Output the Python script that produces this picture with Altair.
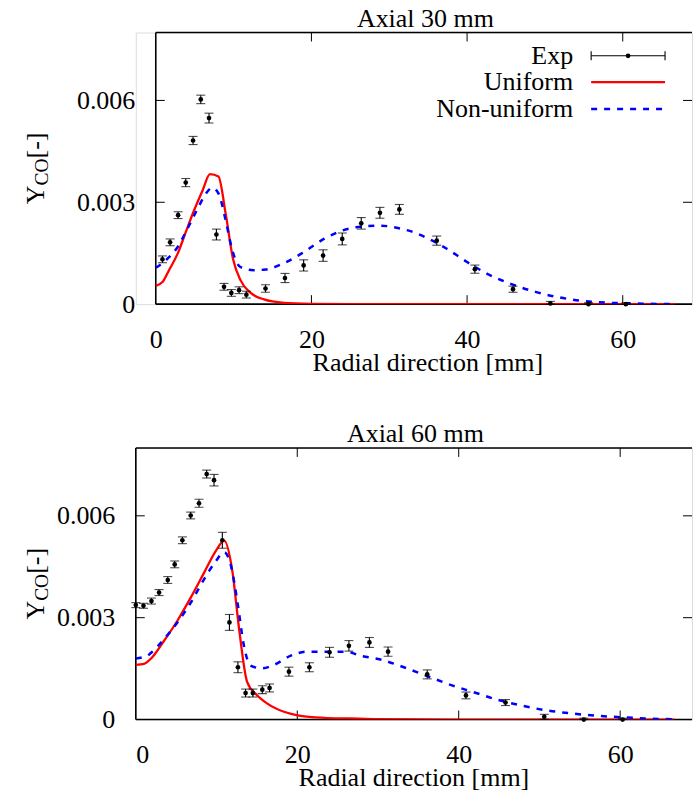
import altair as alt
import pandas as pd

FONT = "Liberation Serif"
FS = 26
SUB = 19.5
RED = "#ff0000"
BLUE = "#0000ff"

# ---------------- data: Axial 30 mm ----------------
exp30_x = [0.86, 1.84, 2.87, 3.85, 4.79, 5.78, 6.84, 7.79, 8.77, 9.71, 10.7, 11.64, 14.1, 16.6,
           19.0, 21.5, 23.96, 26.4, 28.8, 31.3, 36.1, 41.0, 45.9, 50.7, 55.6, 60.4]
exp30_y = [0.00132, 0.00182, 0.00262, 0.00358, 0.00482, 0.00603, 0.00548, 0.00205, 0.00051,
           0.00033, 0.00041, 0.00028, 0.00046, 0.00077, 0.00114, 0.00143, 0.00192, 0.00238,
           0.00269, 0.00279, 0.00187, 0.00103, 0.00044, 0.00002, 0.0, 0.0]
exp30_e = [0.0001, 0.0001, 0.0001, 0.00012, 0.00012, 0.000125, 0.000145, 0.00016, 0.0001,
           0.0001, 0.0001, 0.0001, 0.00011, 0.000135, 0.000165, 0.00017, 0.000175, 0.00017,
           0.00016, 0.000145, 0.000135, 0.00012, 0.00009, 0.00006, 0.00004, 0.00004]

uni30_x = [0, 0.86, 1.7, 2.8, 3.85, 4.9, 6.0, 6.97, 8.05, 8.99, 9.92, 10.9, 12.2, 13.9, 16.5,
           19.9, 25, 30, 40, 50, 60, 66.7]
uni30_y = [0.00054, 0.00065, 0.001, 0.00148, 0.00212, 0.00275, 0.00334, 0.00383, 0.00376,
           0.00265, 0.00134, 0.0007, 0.00033, 0.00014, 0.00004, 0.00001, 0, 0, 0, 0, 0, 0]

non30_x = [0, 1.28, 2.8, 4.07, 5.35, 6.4, 7.28, 8.1, 8.99, 9.84, 10.9, 12.6, 14.1, 16.5, 19.0,
           21.6, 24.0, 26.3, 28.9, 31.5, 33.1, 34.65, 37.4, 40.0, 42.8, 45.8, 48.8, 51.8, 55.0,
           58.2, 61.4, 66.75]
non30_y = [0.00107, 0.00129, 0.00168, 0.00222, 0.0028, 0.00324, 0.00343, 0.00324, 0.00246,
           0.00158, 0.00109, 0.001, 0.00102, 0.00121, 0.00153, 0.00192, 0.00217, 0.00228,
           0.00231, 0.00222, 0.00212, 0.00197, 0.00163, 0.00124, 0.00087, 0.00058, 0.00036,
           0.0002, 0.00009, 0.00004, 0.00002, 0.0]

# ---------------- data: Axial 60 mm ----------------
exp60_x = [0.0, 0.95, 1.94, 2.88, 3.96, 4.82, 5.77, 6.8, 7.83, 8.78, 9.69, 10.72, 11.6, 12.65,
           13.6, 14.5, 15.67, 16.57, 18.97, 21.5, 24.0, 26.4, 28.94, 31.25, 36.1, 40.9, 45.8,
           50.6, 55.5, 60.3]
exp60_y = [0.00337, 0.00335, 0.00349, 0.00374, 0.00411, 0.00457, 0.00528, 0.00601, 0.00637,
           0.00723, 0.00705, 0.00528, 0.00286, 0.00154, 0.00078, 0.00078, 0.00088, 0.00093,
           0.00141, 0.00154, 0.00198, 0.00217, 0.00227, 0.002, 0.00133, 0.00071, 0.0005,
           0.00008, 0.0, 0.0]
exp60_e = [0.000073, 0.000073, 0.000088, 0.000088, 0.0001, 0.0001, 0.0001, 0.0001, 0.000117,
           0.000117, 0.00017, 0.000234, 0.000234, 0.00016, 0.000117, 0.000117, 0.000117,
           0.000117, 0.000132, 0.000132, 0.000146, 0.000155, 0.000146, 0.000138, 0.000132,
           0.0001, 0.000088, 0.000073, 0.00004, 0.00004]

uni60_x = [0, 1.03, 1.86, 3.5, 5.15, 6.8, 8.45, 9.9, 10.95, 11.96, 12.8, 13.8, 15.05, 16.3,
           18.35, 20.4, 23.3, 26.6, 30, 40, 50, 60, 66.7]
uni60_y = [0.00161, 0.00164, 0.00179, 0.00232, 0.00291, 0.00359, 0.00432, 0.00496, 0.00527,
           0.00437, 0.00266, 0.0011, 0.00071, 0.00047, 0.00023, 0.00011, 0.00005, 0.00003,
           0.00001, 0, 0, 0, 0]

non60_x = [0, 1.44, 1.86, 3.5, 5.15, 6.8, 8.45, 9.9, 10.95, 11.8, 12.6, 13.4, 14.2, 15.65,
           17.1, 19.2, 21.2, 23.7, 26.0, 27.8, 30.3, 33.2, 36.1, 39.0, 41.8, 44.7, 48.0, 50.9,
           54.0, 57.1, 60.0, 63.3, 66.8]
non60_y = [0.0018, 0.00188, 0.00196, 0.00237, 0.00286, 0.00344, 0.00413, 0.00466, 0.00493,
           0.00452, 0.00344, 0.00217, 0.00159, 0.00151, 0.00161, 0.00188, 0.002, 0.002, 0.002,
           0.00188, 0.00177, 0.00154, 0.00128, 0.00102, 0.00081, 0.00059, 0.0004, 0.00027,
           0.00018, 0.00011, 0.00007, 0.00003, 0.00001]

x_ticks = [0, 20, 40, 60]
y_ticks = [0, 0.003, 0.006]
X_MAX = 68.9
Y_MAX = 0.008
legend_labels = ["Exp", "Uniform", "Non-uniform"]

W = 557      # view width (both panels share the same origin in the vconcat)
H = 272
TICK = 9


def panel(title, ex, ey, ee, ux, uy, nx, ny, x0, title_cx, xtitle_cx, flush, legend):
    """x0 = left edge of this panel's plot frame inside the shared view."""
    xs = alt.Scale(domain=[0, X_MAX], range=[x0, W], nice=False, zero=False)
    ys = alt.Scale(domain=[0, Y_MAX], nice=False, zero=False)
    xaxis = alt.Axis(values=x_ticks, format="d", title="Radial direction [mm]",
                     titleFont=FONT, titleFontSize=FS, titleFontWeight="normal",
                     titleColor="black", titleBaseline="alphabetic", titleY=66,
                     titleX=xtitle_cx, titleAnchor="middle", titleAlign="center",
                     labelFont=FONT, labelFontSize=FS, labelColor="black",
                     labelBaseline="alphabetic", labelPadding=43, labelFlush=flush,
                     labelOverlap=False, domain=False, ticks=False, tickSize=0, grid=False)
    yaxis = alt.Axis(values=y_ticks, title=None, offset=-x0,
                     labelExpr="datum.value == 0 ? '0' : format(datum.value, '.3f')",
                     labelFont=FONT, labelFontSize=FS, labelColor="black",
                     labelPadding=21, labelOverlap=False,
                     domain=False, ticks=False, tickSize=0, grid=False)
    X = lambda f="x": alt.X(f, type="quantitative", scale=xs, axis=xaxis)
    Y = lambda f="y": alt.Y(f, type="quantitative", scale=ys, axis=yaxis)

    one = pd.DataFrame({"a": [0]})
    exp = pd.DataFrame({"x": ex, "y": ey,
                        "lo": [max(v - e, 0) for v, e in zip(ey, ee)],
                        "hi": [v + e for v, e in zip(ey, ee)]})
    uni = pd.DataFrame({"x": ux, "y": uy})
    non = pd.DataFrame({"x": nx, "y": ny})
    xt = pd.DataFrame({"x": x_ticks[1:]})
    yt = pd.DataFrame({"y": y_ticks[1:]})

    layers = []
    # frame (left, top, bottom); right edge lies outside the picture in the original
    fr = alt.Chart(one).mark_rule(color="black", strokeWidth=1.6)
    layers += [
        fr.encode(x=alt.value(x0), y=alt.value(0), y2=alt.value(H)),
        fr.encode(x=alt.value(x0), x2=alt.value(W), y=alt.value(0)),
        fr.encode(x=alt.value(x0), x2=alt.value(W), y=alt.value(H)),
    ]
    # inner ticks
    tk = alt.Chart(xt).mark_rule(color="black", strokeWidth=1)
    layers += [tk.encode(x=X(), y=alt.value(H - TICK), y2=alt.value(H)),
               tk.encode(x=X(), y=alt.value(0), y2=alt.value(TICK))]
    tky = alt.Chart(yt).mark_rule(color="black", strokeWidth=1)
    layers += [tky.encode(y=Y(), x=alt.value(x0), x2=alt.value(x0 + TICK)),
               tky.encode(y=Y(), x=alt.value(W - TICK), x2=alt.value(W))]
    # model lines
    layers.append(alt.Chart(uni).mark_line(color=RED, strokeWidth=2.3, interpolate="monotone",
                                           clip=True).encode(x=X(), y=Y()))
    layers.append(alt.Chart(non).mark_line(color=BLUE, strokeWidth=2.5, strokeDash=[6, 7],
                                           interpolate="monotone", clip=True).encode(x=X(), y=Y()))
    # experimental data with error bars
    layers.append(alt.Chart(exp).mark_rule(color="black", strokeWidth=1.1)
                  .encode(x=X(), y=Y("lo"), y2=alt.Y2("hi")))
    layers.append(alt.Chart(exp).mark_tick(orient="horizontal", size=9, thickness=1.1,
                                           color="black").encode(x=X(), y=Y("lo")))
    layers.append(alt.Chart(exp).mark_tick(orient="horizontal", size=9, thickness=1.1,
                                           color="black").encode(x=X(), y=Y("hi")))
    layers.append(alt.Chart(exp).mark_circle(size=22, color="black", opacity=1)
                  .encode(x=X(), y=Y()))

    tx = alt.Chart(one)
    # panel title
    layers.append(tx.mark_text(text=title, align="center", baseline="alphabetic",
                               font=FONT, fontSize=FS, color="black")
                  .encode(x=alt.value(title_cx), y=alt.value(-5.7)))

    # y-axis title Y_CO[-] (rotated, with subscript)
    wY = 0.722 * FS
    wCO = (0.667 + 0.722) * SUB
    wBR = 1.0 * FS
    start = H / 2 + (wY + wCO + wBR) / 2
    bx = -92
    layers.append(tx.mark_text(text="Y", angle=270, align="left", baseline="alphabetic",
                               font=FONT, fontSize=FS, color="black")
                  .encode(x=alt.value(bx), y=alt.value(start)))
    layers.append(tx.mark_text(text="CO", angle=270, align="left", baseline="alphabetic",
                               font=FONT, fontSize=SUB, color="black")
                  .encode(x=alt.value(bx + 4), y=alt.value(start - wY)))
    layers.append(tx.mark_text(text="[-]", angle=270, align="left", baseline="alphabetic",
                               font=FONT, fontSize=FS, color="black")
                  .encode(x=alt.value(bx), y=alt.value(start - wY - wCO)))

    if legend:
        lx_text, lx0, lx1 = x0 + 418, x0 + 436, x0 + 510
        rows = [23.3, 49.6, 76.6]
        for lab, r in zip(legend_labels, rows):
            layers.append(tx.mark_text(text=lab, align="right", baseline="alphabetic",
                                       font=FONT, fontSize=FS, color="black")
                          .encode(x=alt.value(lx_text), y=alt.value(r + 8.3)))
        r = rows[0]
        layers.append(tx.mark_rule(color="black", strokeWidth=1.1)
                      .encode(x=alt.value(lx0), x2=alt.value(lx1), y=alt.value(r)))
        layers.append(tx.mark_rule(color="black", strokeWidth=1.1)
                      .encode(x=alt.value(lx0), y=alt.value(r - 4.5), y2=alt.value(r + 4.5)))
        layers.append(tx.mark_rule(color="black", strokeWidth=1.1)
                      .encode(x=alt.value(lx1), y=alt.value(r - 4.5), y2=alt.value(r + 4.5)))
        layers.append(tx.mark_point(filled=True, size=22, color="black", opacity=1, shape="circle")
                      .encode(x=alt.value((lx0 + lx1) / 2), y=alt.value(r)))
        layers.append(tx.mark_rule(color=RED, strokeWidth=2.3)
                      .encode(x=alt.value(lx0), x2=alt.value(lx1), y=alt.value(rows[1])))
        layers.append(tx.mark_rule(color=BLUE, strokeWidth=2.5, strokeDash=[6, 7])
                      .encode(x=alt.value(lx0), x2=alt.value(lx1), y=alt.value(rows[2])))

    return alt.layer(*layers).properties(width=W, height=H)


top = panel("Axial 30 mm", exp30_x, exp30_y, exp30_e, uni30_x, uni30_y, non30_x, non30_y,
            x0=20, title_cx=290, xtitle_cx=292, flush=False, legend=True)
bottom = panel("Axial 60 mm", exp60_x, exp60_y, exp60_e, uni60_x, uni60_y, non60_x, non60_y,
               x0=0, title_cx=280, xtitle_cx=278, flush=True, legend=False)

chart = alt.vconcat(top, bottom, spacing=44).properties(
    padding={"left": 22, "top": 4, "right": 0, "bottom": 0}
).configure_view(stroke=None).configure(background="white")

chart.save("out.html", embed_options={"renderer": "svg", "actions": False})
